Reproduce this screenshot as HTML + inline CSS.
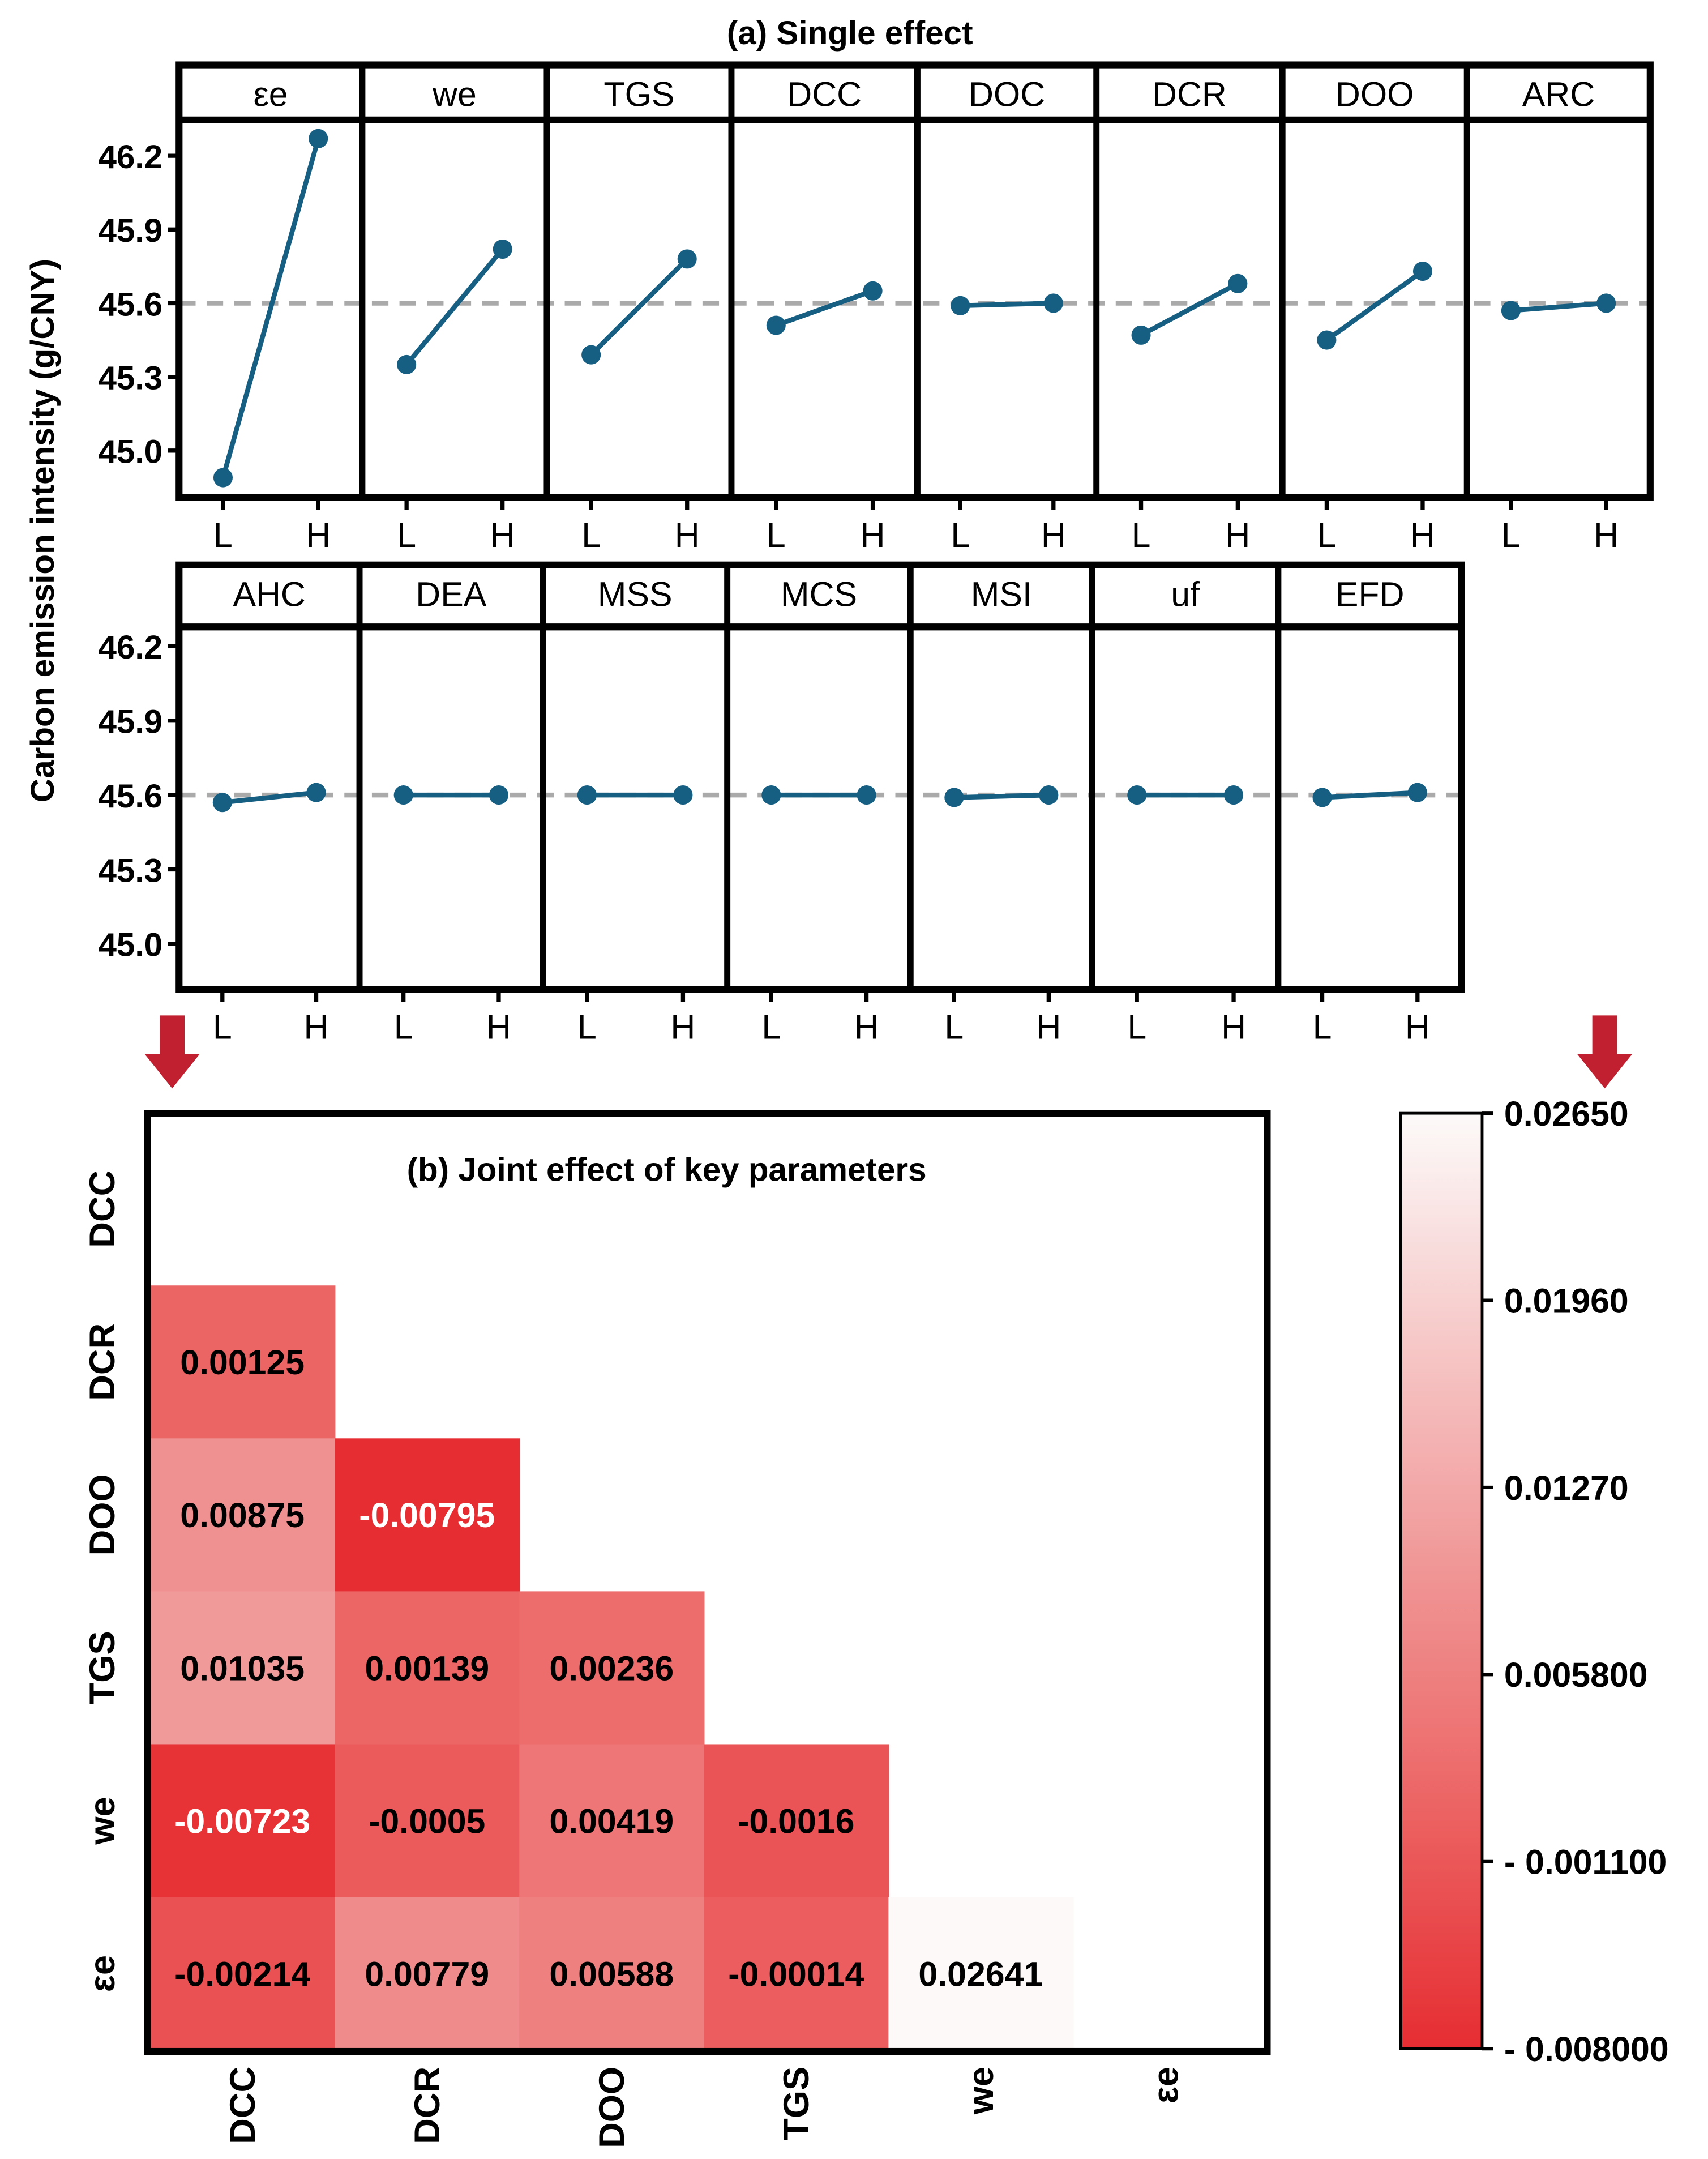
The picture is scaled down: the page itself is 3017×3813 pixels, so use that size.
<!DOCTYPE html>
<html><head><meta charset="utf-8"><style>
html,body{margin:0;padding:0;background:#fff}
svg{display:block}
text{font-family:"Liberation Sans",sans-serif}
</style></head><body>
<svg id="fig" width="3017" height="3813" viewBox="0 0 1240 1567" xmlns="http://www.w3.org/2000/svg">
<text x="617" y="32" text-anchor="middle" font-size="24" font-weight="bold">(a) Single effect</text>
<text transform="translate(39,385) rotate(-90)" text-anchor="middle" font-size="24" font-weight="bold">Carbon emission intensity (g/CNY)</text>
<g id="pa"></g>
<polygon points="116,737 134,737 134,765 145,765 125,790 105,765 116,765" fill="#c0202f"/>
<polygon points="1156,737 1174,737 1174,765 1185,765 1165,790 1145,765 1156,765" fill="#c0202f"/>
<g id="pb"></g>
<text x="484" y="857" text-anchor="middle" font-size="24" font-weight="bold">(b) Joint effect of key parameters</text>
</svg>
<script>
const NS="http://www.w3.org/2000/svg";
// Panel (a) data
const row1Names=["εe","we","TGS","DCC","DOC","DCR","DOO","ARC"];
const row1Low=[44.89,45.35,45.39,45.51,45.59,45.47,45.45,45.57];
const row1High=[46.27,45.82,45.78,45.65,45.60,45.68,45.73,45.60];
const row2Names=["AHC","DEA","MSS","MCS","MSI","uf","EFD"];
const row2Low=[45.57,45.60,45.60,45.60,45.59,45.60,45.59];
const row2High=[45.61,45.60,45.60,45.60,45.60,45.60,45.61];
const yTicks=[45.0,45.3,45.6,45.9,46.2];
const levelLabels=["L","H"];
// Panel (b) data
const hmCols=["DCC","DCR","DOO","TGS","we","εe"];
const hmRows=["DCC","DCR","DOO","TGS","we","εe"];
const hmVals=[
 [],
 [0.00125],
 [0.00875,-0.00795],
 [0.01035,0.00139,0.00236],
 [-0.00723,-0.0005,0.00419,-0.0016],
 [-0.00214,0.00779,0.00588,-0.00014,0.02641]
];
const hmLabels=[
 [],["0.00125"],["0.00875","-0.00795"],["0.01035","0.00139","0.00236"],
 ["-0.00723","-0.0005","0.00419","-0.0016"],
 ["-0.00214","0.00779","0.00588","-0.00014","0.02641"]];
const cbTicks=[0.0265,0.0196,0.0127,0.0058,-0.0011,-0.008];
const cbTickLabels=["0.02650","0.01960","0.01270","0.005800","- 0.001100","- 0.008000"];

function el(t,a,p){const e=document.createElementNS(NS,t);for(const k in a)e.setAttribute(k,a[k]);p.appendChild(e);return e;}
const pa=document.getElementById('pa');
function row(names,lo,hi,bounds,top,stripB,bottom,y46,ymid){
  const ys=v=>ymid+(45.6-v)*((ymid-y46)/0.6);
  const left=bounds[0],right=bounds[bounds.length-1];
  yTicks.forEach(t=>{
    const l=el('line',{x1:left-8,x2:left,y1:ys(t),y2:ys(t),stroke:'#000','stroke-width':3},pa);
    
    const tx=el('text',{x:left-12,y:ys(t)+9,'text-anchor':'end','font-size':24,'font-weight':'bold'},pa);
    tx.textContent=t.toFixed(1);
    
  });
  const ref=el('line',{x1:left,x2:right,y1:ys(45.6),y2:ys(45.6),stroke:'#aaa','stroke-width':3.5,'stroke-dasharray':'12,8'},pa);
  
  names.forEach((n,i)=>{
    const x0=bounds[i],x1=bounds[i+1];
    const g=el('g',{},pa);
    
    const st=el('text',{x:(x0+x1)/2,y:top+30,'text-anchor':'middle','font-size':25},g);st.textContent=n;
    
    const xl=x0+(x1-x0)*0.24,xh=x0+(x1-x0)*0.76;
    el('line',{x1:xl,y1:ys(lo[i]),x2:xh,y2:ys(hi[i]),stroke:'#165f82','stroke-width':3.5},g);
    [[xl,lo[i]],[xh,hi[i]]].forEach(p=>{
      const c=el('circle',{cx:p[0],cy:ys(p[1]),r:7,fill:'#165f82'},g);
      
    });
    [xl,xh].forEach((x,k)=>{
      el('line',{x1:x,x2:x,y1:bottom,y2:bottom+9,stroke:'#000','stroke-width':3},g);
      const lt=el('text',{x:x,y:bottom+36,'text-anchor':'middle','font-size':25},g);lt.textContent=levelLabels[k];
      
    });
  });
  el('rect',{x:left,y:top,width:right-left,height:bottom-top,fill:'none',stroke:'#000','stroke-width':5},pa);
  el('line',{x1:left,x2:right,y1:stripB,y2:stripB,stroke:'#000','stroke-width':5},pa);
  bounds.slice(1,-1).forEach(b=>el('line',{x1:b,x2:b,y1:top,y2:bottom,stroke:'#000','stroke-width':4.5},pa));
}
row(row1Names,row1Low,row1High,[130,263,397,531,666,796,931,1065,1198],47,87,361,113,220);
row(row2Names,row2Low,row2High,[130,261,394,528,661,793,928,1061],410,455,718,469,577);

const pb=document.getElementById('pb');
const stops=[[-0.008,[230,45,50]],[0.001,[236,100,100]],[0.009,[240,146,146]],[0.0265,[252,250,249]]];
function color(v){
  for(let i=0;i<stops.length-1;i++){const a=stops[i],b=stops[i+1];
    if(v<=b[0]||i==stops.length-2){let t=(v-a[0])/(b[0]-a[0]);t=Math.max(0,Math.min(1,t));
      const c=a[1].map((x,k)=>Math.round(x+(b[1][k]-x)*t));return 'rgb('+c+')';}}
}
const hx0=109,cw=134,hy0=822,rh=111;
hmVals.forEach((r,ri)=>r.forEach((v,ci)=>{
  const x=hx0+ci*cw,y=hy0+ri*rh;
  const rc=el('rect',{x:x,y:y,width:cw+0.5,height:rh+0.5,fill:color(v)},pb);
  
  const tx=el('text',{x:x+cw/2,y:y+rh/2+9,'text-anchor':'middle','font-size':25,'font-weight':'bold',fill:v<-0.007?'#fff':'#000'},pb);
  tx.textContent=hmLabels[ri][ci];
  
}));
const fr=el('rect',{x:107,y:808,width:813,height:681,fill:'none',stroke:'#000','stroke-width':5},pb);

hmRows.forEach((n,i)=>{
  const t=el('text',{transform:`translate(83,${hy0+i*rh+rh/2}) rotate(-90)`,'text-anchor':'middle','font-size':26,'font-weight':'bold'},pb);
  t.textContent=n;
});
hmCols.forEach((n,i)=>{
  const t=el('text',{transform:`translate(${hx0+i*cw+cw/2+9},1500) rotate(-90)`,'text-anchor':'end','font-size':26,'font-weight':'bold'},pb);
  t.textContent=n;
});
const cbTop=808,cbBot=1487,vmax=0.0265,vmin=-0.008;
const cy=v=>cbBot-(v-vmin)/(vmax-vmin)*(cbBot-cbTop);
const defs=el('defs',{},pb);
const lg=el('linearGradient',{id:'cbg',x1:0,y1:1,x2:0,y2:0},defs);
for(let k=0;k<=20;k++){const v=vmin+(vmax-vmin)*k/20;el('stop',{offset:k/20,'stop-color':color(v)},lg);}
const cb=el('rect',{x:1017,y:cbTop,width:59,height:cbBot-cbTop,fill:'url(#cbg)',stroke:'#000','stroke-width':2},pb);

cbTicks.forEach((t,i)=>{
  el('line',{x1:1076,x2:1084,y1:cy(t),y2:cy(t),stroke:'#000','stroke-width':2.5},pb);
  const tx=el('text',{x:1092,y:cy(t)+9,'font-size':25,'font-weight':'bold'},pb);
  tx.textContent=cbTickLabels[i];
  
});
</script>
</body></html>
